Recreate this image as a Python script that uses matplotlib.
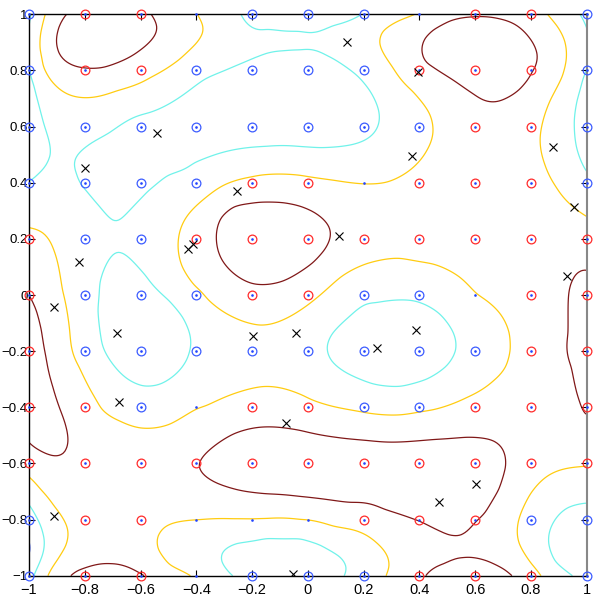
import numpy as np
import matplotlib
matplotlib.use("Agg")
import matplotlib.pyplot as plt

# grid of sample points (x and y both)
grid_vals = [-1.0, -0.8, -0.6, -0.4, -0.2, 0.0, 0.2, 0.4, 0.6, 0.8, 1.0]
tick_labels = ["\u22121", "\u22120.8", "\u22120.6", "\u22120.4", "\u22120.2", "0",
               "0.2", "0.4", "0.6", "0.8", "1"]

# class of each grid point, rows from y=1 (top) to y=-1, columns x=-1..1
# 1 = red circle, -1 = blue circle, 0 = dot only
labels = [
    [-1, 1, 1, 0, -1, -1, -1, 0, 1, 1, -1],
    [-1, 1, 1, -1, -1, -1, -1, 1, 1, 1, -1],
    [-1, -1, -1, -1, -1, -1, -1, -1, 1, 1, -1],
    [-1, -1, -1, -1, 1, 1, 0, 1, 1, 1, -1],
    [1, -1, -1, 1, 1, 1, 1, 1, 1, 1, 1],
    [1, -1, -1, -1, 1, 1, -1, -1, 0, 1, 1],
    [1, -1, -1, -1, -1, -1, -1, -1, -1, 1, 1],
    [1, 1, -1, 0, 1, 1, -1, -1, 1, 1, 1],
    [1, 1, 1, 1, 1, 1, 1, 1, 1, 1, 1],
    [-1, 1, 1, 0, 0, 0, 1, 1, 1, -1, -1],
    [-1, 1, 1, 0, -1, -1, -1, 1, 1, 1, -1],
]

# surface value estimated at each grid point (same layout)
surface = [
    [-1.1, 1.2, 1.2, 0.0, -1.2, -1.2, -1.0, 0.0, 0.95, 0.6, -1.1],
    [-1.05, 0.9, 0.5, -0.8, -1.1, -1.2, -0.85, 0.9, 1.3, 1.0, -1.0],
    [-1.3, -0.8, -1.3, -1.4, -1.4, -1.4, -1.2, -0.3, 0.8, 0.3, -1.3],
    [-1.0, -1.05, -1.2, -0.8, 0.2, 0.2, 0.0, 0.3, 0.7, 0.4, -0.8],
    [0.4, -0.7, -0.8, 0.5, 1.3, 1.3, 0.7, 0.7, 0.8, 0.7, 0.5],
    [1.0, -0.6, -1.2, -0.3, 0.8, 0.3, -0.9, -0.9, 0.0, 0.6, 1.1],
    [1.3, -0.6, -1.4, -0.9, -0.6, -0.7, -1.3, -1.3, -0.6, 0.6, 1.2],
    [1.2, 0.5, -0.4, 0.0, 0.5, 0.2, -0.15, -0.15, 0.3, 0.6, 1.0],
    [0.6, 0.6, 0.5, 1.0, 1.4, 1.5, 1.5, 1.5, 1.3, 0.5, 0.05],
    [-1.5, 0.3, 0.5, 0.0, 0.0, 0.0, 0.3, 1.0, 1.0, -0.4, -1.2],
    [-1.5, 1.1, 1.05, 0.0, -1.15, -1.15, -0.5, 1.0, 1.1, 0.5, -1.2],
]

# contour lines, grouped by level
level_blue = [  # level -2, a short piece on the left edge
    [(-1.0, -0.866), (-0.996, -0.905), (-1.0, -0.945)],
]
blue_dip = [(-1.0, -0.905, -2.15)]

level_dark = [  # level 1
    [(-0.871, 1.0), (-0.895, 0.956), (-0.904, 0.908), (-0.895, 0.861), (-0.853, 0.825), (-0.793, 0.808),
     (-0.734, 0.808), (-0.674, 0.831), (-0.602, 0.873), (-0.542, 0.932), (-0.536, 0.956), (-0.554, 0.986),
     (-0.572, 1.0)],
    [(0.414, 0.897), (0.450, 0.825), (0.522, 0.766), (0.594, 0.719), (0.653, 0.692), (0.713, 0.704),
     (0.760, 0.730), (0.791, 0.766), (0.821, 0.813), (0.826, 0.855), (0.808, 0.897), (0.761, 0.950),
     (0.689, 0.982), (0.594, 0.989), (0.511, 0.980), (0.445, 0.950), (0.417, 0.920)],
    [(-0.327, 0.196), (-0.315, 0.279), (-0.267, 0.321), (-0.172, 0.333), (-0.088, 0.330), (-0.028, 0.318),
     (0.020, 0.297), (0.062, 0.261), (0.077, 0.220), (0.062, 0.160), (0.020, 0.113), (-0.028, 0.083),
     (-0.088, 0.048), (-0.172, 0.039), (-0.267, 0.077), (-0.309, 0.125)],
    [(-0.387, -0.600), (-0.339, -0.541), (-0.267, -0.493), (-0.148, -0.470), (-0.028, -0.480),
     (0.091, -0.505), (0.211, -0.517), (0.331, -0.523), (0.450, -0.514), (0.570, -0.505), (0.665, -0.517),
     (0.704, -0.564), (0.713, -0.612), (0.689, -0.695), (0.641, -0.778), (0.582, -0.832), (0.522, -0.853),
     (0.474, -0.838), (0.390, -0.805), (0.271, -0.767), (0.151, -0.743), (0.032, -0.725), (-0.028, -0.719),
     (-0.148, -0.709), (-0.243, -0.697), (-0.327, -0.671), (-0.375, -0.638)],
    [(-1.0, 0.003), (-0.972, -0.053), (-0.954, -0.125), (-0.937, -0.220), (-0.913, -0.327), (-0.889, -0.410),
     (-0.865, -0.481), (-0.859, -0.528), (-0.871, -0.570), (-0.907, -0.576), (-0.961, -0.552), (-1.0, -0.531)],
    [(-0.865, -1.0), (-0.829, -0.977), (-0.769, -0.963), (-0.709, -0.960), (-0.638, -0.971), (-0.566, -1.0)],
    [(0.424, -1.0), (0.490, -0.968), (0.562, -0.941), (0.646, -0.946), (0.706, -0.974), (0.742, -1.0)],
    [(1.0, 0.105), (0.958, 0.053), (0.934, -0.018), (0.938, -0.137), (0.952, -0.255), (0.976, -0.374),
     (1.0, -0.459)],
]
level_zero = [  # level 0
    [(-0.943, 1.0), (-0.961, 0.932), (-0.967, 0.873), (-0.955, 0.813), (-0.925, 0.766), (-0.877, 0.724),
     (-0.829, 0.706), (-0.757, 0.706), (-0.686, 0.730), (-0.566, 0.778), (-0.459, 0.837), (-0.399, 0.897),
     (-0.369, 0.938), (-0.372, 0.962), (-0.399, 0.998)],
    [(0.390, 0.998), (0.330, 0.980), (0.259, 0.944), (0.253, 0.897), (0.306, 0.814), (0.378, 0.730),
     (0.438, 0.647), (0.450, 0.576), (0.426, 0.517), (0.366, 0.445), (0.283, 0.400), (0.199, 0.392),
     (0.091, 0.410), (-0.028, 0.428), (-0.172, 0.428), (-0.267, 0.404), (-0.363, 0.350), (-0.435, 0.279),
     (-0.464, 0.196), (-0.453, 0.101), (-0.411, 0.030), (-0.360, -0.020), (-0.267, -0.078), (-0.172, -0.111),
     (-0.088, -0.087), (-0.028, -0.054), (0.020, -0.018), (0.116, 0.065), (0.211, 0.113), (0.331, 0.134),
     (0.450, 0.113), (0.546, 0.065), (0.641, -0.018), (0.689, -0.065), (0.725, -0.137), (0.731, -0.196),
     (0.713, -0.255), (0.665, -0.303), (0.570, -0.363), (0.450, -0.410), (0.331, -0.428), (0.211, -0.422),
     (0.091, -0.398), (-0.016, -0.355), (-0.160, -0.324), (-0.243, -0.345), (-0.363, -0.399),
     (-0.494, -0.463), (-0.602, -0.475), (-0.674, -0.445), (-0.746, -0.410), (-0.781, -0.338),
     (-0.817, -0.255), (-0.853, -0.125), (-0.883, 0.018), (-0.913, 0.160), (-0.949, 0.223), (-1.0, 0.232)],
    [(0.851, 1.0), (0.898, 0.956), (0.922, 0.908), (0.928, 0.837), (0.916, 0.778), (0.868, 0.695),
     (0.832, 0.564), (0.850, 0.469), (0.892, 0.386), (0.952, 0.315), (1.0, 0.279)],
    [(-0.423, -1.0), (-0.506, -0.968), (-0.542, -0.909), (-0.542, -0.861), (-0.518, -0.826), (-0.459, -0.808),
     (-0.387, -0.802), (-0.267, -0.799), (-0.148, -0.799), (-0.028, -0.804), (0.091, -0.828), (0.187, -0.849),
     (0.247, -0.885), (0.289, -0.933), (0.301, -0.968), (0.277, -1.0)],
    [(-1.0, -0.640), (-0.961, -0.695), (-0.913, -0.754), (-0.877, -0.802), (-0.859, -0.849), (-0.865, -0.897),
     (-0.895, -0.944), (-0.937, -1.0)],
    [(1.0, -0.614), (0.928, -0.618), (0.856, -0.647), (0.797, -0.707), (0.755, -0.802), (0.755, -0.885),
     (0.797, -0.956), (0.839, -1.0)],
]
level_cyan = [  # level -1
    [(-0.990, 1.0), (-0.996, 0.950), (-0.988, 0.850), (-0.978, 0.750), (-0.965, 0.680), (-0.949, 0.612),
     (-0.927, 0.528), (-0.937, 0.481), (-0.973, 0.433), (-1.0, 0.400)],
    [(-0.829, 0.493), (-0.823, 0.433), (-0.793, 0.374), (-0.745, 0.315), (-0.698, 0.261), (-0.674, 0.267),
     (-0.626, 0.315), (-0.578, 0.374), (-0.506, 0.433), (-0.411, 0.481), (-0.267, 0.517), (-0.148, 0.528),
     (-0.028, 0.528), (0.044, 0.523), (0.151, 0.534), (0.223, 0.564), (0.253, 0.612), (0.253, 0.659),
     (0.223, 0.730), (0.151, 0.802), (0.068, 0.849), (-0.028, 0.867), (-0.088, 0.867), (-0.172, 0.849),
     (-0.267, 0.814), (-0.387, 0.754), (-0.566, 0.647), (-0.710, 0.576), (-0.793, 0.528)],
    [(-0.243, 1.0), (-0.148, 0.968), (-0.028, 0.950), (0.091, 0.968), (0.199, 0.994)],
    [(-0.757, -0.053), (-0.739, -0.149), (-0.710, -0.232), (-0.650, -0.297), (-0.590, -0.329),
     (-0.530, -0.320), (-0.470, -0.279), (-0.429, -0.208), (-0.423, -0.137), (-0.447, -0.077),
     (-0.495, -0.018), (-0.578, 0.071), (-0.638, 0.131), (-0.674, 0.149), (-0.721, 0.113), (-0.751, 0.042)],
    [(0.067, -0.184), (0.085, -0.137), (0.151, -0.077), (0.247, -0.036), (0.331, -0.018), (0.402, -0.030),
     (0.474, -0.065), (0.524, -0.137), (0.534, -0.196), (0.498, -0.255), (0.426, -0.303), (0.331, -0.329),
     (0.235, -0.320), (0.140, -0.279), (0.085, -0.237)],
    [(-0.273, -1.0), (-0.317, -0.950), (-0.309, -0.915), (-0.255, -0.880), (-0.148, -0.860), (-0.028, -0.860),
     (0.044, -0.885), (0.116, -0.930), (0.146, -0.968), (0.134, -1.0)],
    [(-1.0, -0.742), (-0.977, -0.790), (-0.954, -0.849), (-0.948, -0.897), (-0.961, -0.944), (-0.985, -0.991)],
    [(0.964, 1.0), (0.994, 0.962)],
    [(1.0, 0.813), (0.981, 0.772), (0.964, 0.695), (0.954, 0.623), (0.962, 0.528), (1.0, 0.433)],
    [(1.0, -0.736), (0.928, -0.756), (0.880, -0.813), (0.862, -0.884), (0.880, -0.956), (0.950, -1.0)],
]

# the x markers
cross_x = [0.141, 0.394, 0.375, 0.880, 0.954, 0.113, 0.930, -0.540, -0.799, -0.255, -0.431, -0.411, -0.822,
           -0.909, -0.683, -0.198, -0.043, 0.387, 0.248, -0.676, -0.080, 0.602, 0.471, -0.910, -0.052]
cross_y = [0.902, 0.793, 0.496, 0.528, 0.312, 0.211, 0.068, 0.576, 0.451, 0.371, 0.163, 0.180, 0.118,
           -0.044, -0.134, -0.146, -0.137, -0.125, -0.190, -0.380, -0.455, -0.675, -0.739, -0.786, -0.994]

contour_levels = [-2, -1, 0, 1]
contour_colors = ["#3050ff", "#70f2ea", "#ffcc11", "#801818"]


# ---- rebuild a smooth surface through the read values (thin plate spline) ----
g = np.array(grid_vals)
GX, GY = np.meshgrid(g, g[::-1])
px = list(GX.ravel())
py = list(GY.ravel())
pz = list(np.array(surface).ravel())
for lev, pieces in zip(contour_levels, [level_blue, level_cyan, level_zero, level_dark]):
    for piece in pieces:
        for (a, b) in piece:
            px.append(a)
            py.append(b)
            pz.append(lev)
for (a, b, c) in blue_dip:
    px.append(a)
    py.append(b)
    pz.append(c)
px = np.array(px)
py = np.array(py)
pz = np.array(pz)


def tps_kernel(r):
    with np.errstate(divide="ignore", invalid="ignore"):
        k = r * r * np.log(r)
    return np.nan_to_num(k)


n = len(px)
K = tps_kernel(np.hypot(px[:, None] - px[None, :], py[:, None] - py[None, :]))
P = np.column_stack([np.ones(n), px, py])
smooth = 4e-3
M = np.zeros((n + 3, n + 3))
M[:n, :n] = K + smooth * np.eye(n)
M[:n, n:] = P
M[n:, :n] = P.T
rhs = np.concatenate([pz, np.zeros(3)])
sol = np.linalg.lstsq(M, rhs, rcond=None)[0]
w, a = sol[:n], sol[n:]

xs = np.linspace(-1, 1, 281)
XX, YY = np.meshgrid(xs, xs)
R = np.hypot(XX.ravel()[:, None] - px[None, :], YY.ravel()[:, None] - py[None, :])
ZZ = (tps_kernel(R) @ w + a[0] + a[1] * XX.ravel() + a[2] * YY.ravel()).reshape(XX.shape)

# ---- figure ----
plt.rcParams["font.family"] = ["Liberation Sans", "DejaVu Sans"]
fig = plt.figure(figsize=(5.99, 5.99), dpi=100)
ax = fig.add_axes([29 / 599, 1 - 575.7 / 599, (586.7 - 29) / 599, (575.7 - 14.3) / 599])

ax.contour(XX, YY, ZZ, levels=contour_levels, colors=contour_colors, linewidths=0.9, zorder=1)

lab = np.array(labels)
ax.plot(GX[lab > 0], GY[lab > 0], "o", ms=6.3, mfc="none", mec="#ff2b2b", mew=0.9, zorder=3, clip_on=False)
ax.plot(GX[lab < 0], GY[lab < 0], "o", ms=6.3, mfc="none", mec="#3c5cff", mew=0.9, zorder=3, clip_on=False)
ax.plot(GX.ravel(), GY.ravel(), "o", ms=1.9, mfc="#2244ff", mec="none", zorder=4, clip_on=False)
ax.plot(cross_x, cross_y, "x", ms=5.5, mew=0.8, color="black", zorder=5)

ax.set_xlim(-1, 1)
ax.set_ylim(-1, 1)
ax.set_xticks(grid_vals)
ax.set_yticks(grid_vals)
ax.set_xticklabels(tick_labels)
ax.set_yticklabels(tick_labels)
ax.tick_params(direction="in", length=4, width=0.8, top=True, right=True)
ax.tick_params(axis="y", pad=1, labelsize=9.5)
ax.tick_params(axis="x", pad=5, labelsize=10.5)
for s in ax.spines.values():
    s.set_linewidth(1.0)
ax.spines["right"].set_color("#888888")
ax.spines["right"].set_linewidth(1.5)

fig.savefig("out.png", dpi=100)
